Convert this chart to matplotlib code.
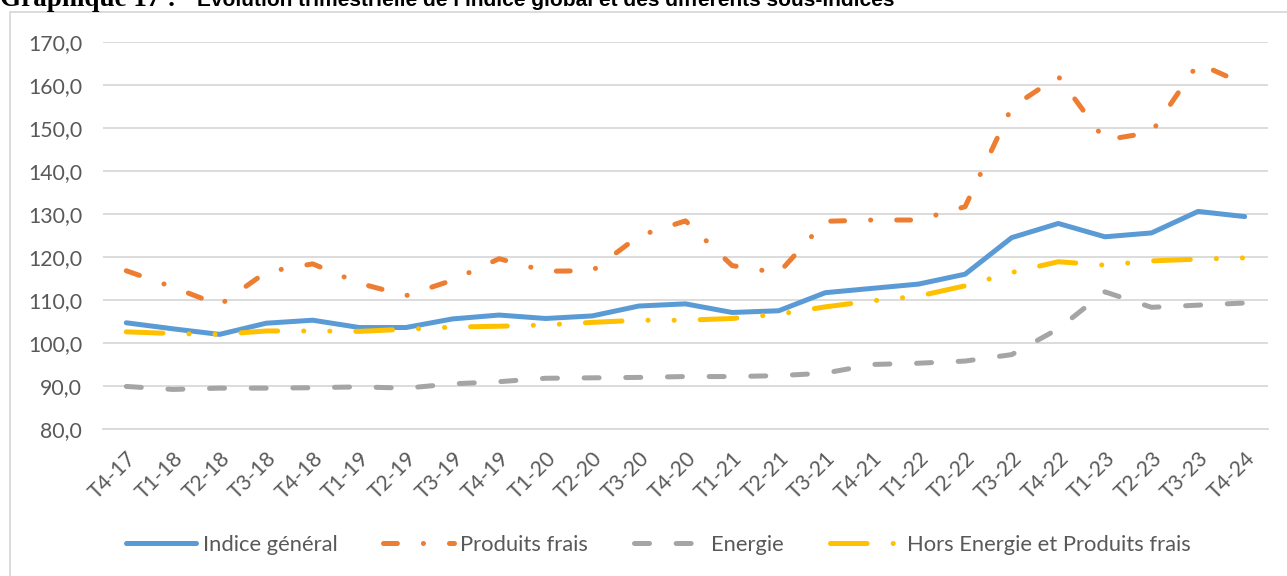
import matplotlib
matplotlib.use("Agg")
import matplotlib.pyplot as plt
from matplotlib.patches import Rectangle
from matplotlib.ticker import FuncFormatter, MultipleLocator

# ---------------- data ----------------
categories = ['T4-17', 'T1-18', 'T2-18', 'T3-18', 'T4-18', 'T1-19', 'T2-19', 'T3-19',
              'T4-19', 'T1-20', 'T2-20', 'T3-20', 'T4-20', 'T1-21', 'T2-21', 'T3-21',
              'T4-21', 'T1-22', 'T2-22', 'T3-22', 'T4-22', 'T1-23', 'T2-23', 'T3-23', 'T4-24']

indice_general = [104.7, 103.3, 102.0, 104.6, 105.3, 103.6, 103.6, 105.6, 106.5, 105.7,
                  106.3, 108.6, 109.1, 107.1, 107.5, 111.7, 112.7, 113.7, 116.0, 124.5,
                  127.8, 124.7, 125.6, 130.6, 129.4]

produits_frais = [116.8, 113.0, 108.8, 116.5, 118.4, 113.9, 111.0, 114.6, 119.6, 116.7,
                  116.8, 124.9, 128.4, 118.0, 116.3, 128.3, 128.6, 128.6, 131.7, 154.8,
                  162.0, 147.2, 149.0, 165.0, 160.2]

energie = [89.9, 89.2, 89.5, 89.5, 89.6, 89.8, 89.5, 90.5, 91.0, 91.8,
           91.9, 92.0, 92.2, 92.2, 92.4, 93.0, 95.0, 95.3, 95.8, 97.3,
           103.3, 111.9, 108.3, 108.8, 109.3]

hors_energie = [102.6, 102.2, 102.0, 102.8, 102.8, 102.7, 103.2, 103.7, 103.9, 104.2,
                104.8, 105.3, 105.3, 105.7, 106.7, 108.4, 109.8, 110.9, 113.3, 116.4,
                118.9, 118.1, 119.1, 119.5, 119.8]

series_labels = ['Indice général', 'Produits frais', 'Energie', 'Hors Energie et Produits frais']
title_part1 = 'Graphique 17 :'
title_part2 = "Evolution trimestrielle de l\u2019indice global et des différents sous-indices"
y_min, y_max, y_step = 80, 170, 10

# ---------------- style ----------------
plt.rcParams['font.family'] = ['Lato', 'DejaVu Sans']
plt.rcParams['lines.scale_dashes'] = False

W, H = 1287, 576
fig = plt.figure(figsize=(W / 100, H / 100), dpi=100)
fig.patch.set_facecolor('white')

ax_left, ax_right, ax_top, ax_bottom = 103, 1268, 42, 429
ax = fig.add_axes([ax_left / W, 1 - ax_bottom / H, (ax_right - ax_left) / W, (ax_bottom - ax_top) / H])

x = list(range(len(categories)))
lw = 3.6
common = dict(linewidth=lw, solid_capstyle='round', dash_capstyle='round',
              solid_joinstyle='round', dash_joinstyle='round')

ax.plot(x, indice_general, color='#5B9BD5', linestyle='-', label=series_labels[0], **common)
ax.plot(x, produits_frais, color='#ED7D31', linestyle=(0, (10, 18.7, 0.1, 18.7)),
        label=series_labels[1], **common)
ax.plot(x, energie, color='#A5A5A5', linestyle=(0, (10.8, 19.2)), label=series_labels[2], **common)
ax.plot(x, hors_energie, color='#FFC000', linestyle=(0, (26.4, 18.7, 0.1, 18.7, 0.1, 18.7)),
        label=series_labels[3], **common)

ax.set_xlim(-0.5, len(categories) - 0.5)
ax.set_ylim(y_min, y_max)
ax.yaxis.set_major_locator(MultipleLocator(y_step))
ax.yaxis.set_major_formatter(FuncFormatter(lambda v, p: f"{v:.1f}".replace('.', ',')))
ax.grid(axis='y', color='#D9D9D9', linewidth=1.3)
ax.set_axisbelow(True)
for s in ['top', 'right', 'left']:
    ax.spines[s].set_visible(False)
ax.spines['bottom'].set_color('#D9D9D9')
ax.spines['bottom'].set_linewidth(1.3)

ax.set_xticks(x)
ax.set_xticklabels(categories, rotation=45, ha='right', va='top', rotation_mode='anchor')
ax.tick_params(axis='x', length=0, pad=14, labelsize=15.3, labelcolor='#595959')
ax.tick_params(axis='y', length=0, pad=15, labelsize=15.3, labelcolor='#595959')

# chart frame (extends beyond right/bottom of the image)
fig.patches.append(Rectangle((10 / W, -0.2), 1.2, 1.2 - 12 / H, transform=fig.transFigure,
                             fill=False, edgecolor='#D9D9D9', linewidth=1.3))

# title (partially clipped at top, as in the reference)
fig.text(0 / W, 1 - 6 / H, title_part1, family='Liberation Serif', weight='bold',
         fontsize=19.5, va='baseline', ha='left', color='black')
fig.text(197 / W, 1 - 6 / H, title_part2,
         family='Liberation Sans', weight='bold', fontsize=15, va='baseline', ha='left', color='black')

leg = fig.legend(loc='center', bbox_to_anchor=(658 / W, 1 - 545 / H), ncol=4, frameon=False,
                 fontsize=15.8, handlelength=3.2, handletextpad=0.3, columnspacing=2.1)
for t in leg.get_texts():
    t.set_color('#595959')

fig.savefig('out.png', dpi=100, facecolor='white')
